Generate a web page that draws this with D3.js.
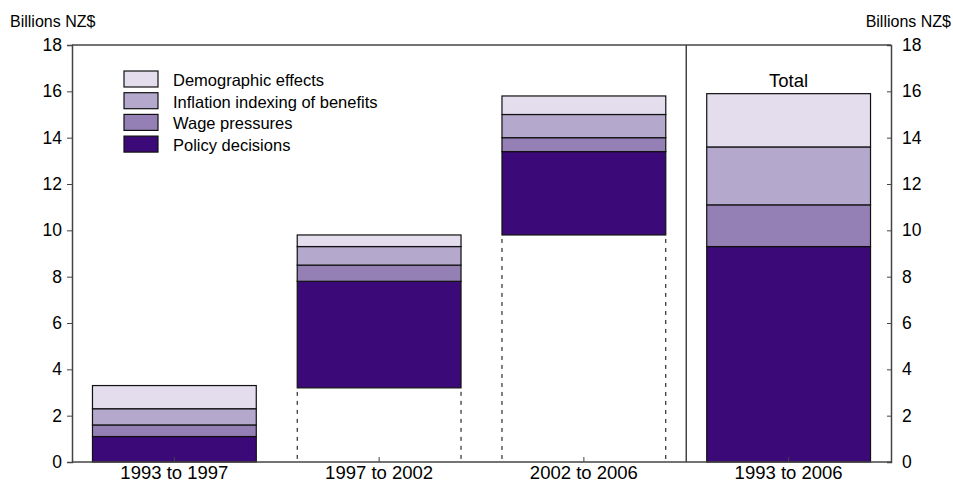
<!DOCTYPE html>
<html><head><meta charset="utf-8">
<script src="https://cdn.jsdelivr.net/npm/d3@7"></script>
<style>body{margin:0;background:#fff}svg{display:block}text{font-family:"Liberation Sans",Arial,sans-serif;fill:#000}</style>
</head><body><svg id="c" width="953" height="483"></svg>
<script>
const categories = ["1993 to 1997","1997 to 2002","2002 to 2006","1993 to 2006"];
const seriesNames = ["Policy decisions","Wage pressures","Inflation indexing of benefits","Demographic effects"];
const policy = [1.1, 4.6, 3.6, 9.3];
const wage = [0.5, 0.7, 0.6, 1.8];
const inflation = [0.7, 0.8, 1.0, 2.5];
const demographic = [1.0, 0.5, 0.8, 2.3];
const bases = [0, 3.2, 9.8, 0];
const yTicks = [0,2,4,6,8,10,12,14,16,18];
const colors = ["#3c0a78","#9580b5","#b4a8cd","#e3dded"];

const svg = d3.select("#c");
const L=72, R=891, T=45, B=462;
const x = d3.scaleBand().domain(categories).range([L,R]).paddingInner(0.2).paddingOuter(0.1);
const xb = d3.scaleBand().domain(categories).range([L,R]);
const y = d3.scaleLinear().domain([0,18]).range([B,T]);
const series=[policy,wage,inflation,demographic];

categories.forEach((c,i)=>{
  let acc=bases[i];
  series.forEach((s,k)=>{
    const y0=acc, y1=acc+s[i]; acc=y1;
    svg.append("rect").attr("x",x(c)).attr("width",x.bandwidth())
      .attr("y",y(y1)).attr("height",y(y0)-y(y1))
      .attr("fill",colors[k]).attr("stroke","#111").attr("stroke-width",1.2);
  });
  if(bases[i]>0){
    [x(c), x(c)+x.bandwidth()].forEach(xx=>{
      svg.append("line").attr("x1",xx).attr("x2",xx).attr("y1",y(bases[i])+4).attr("y2",B)
        .attr("stroke","#000").attr("stroke-width",1).attr("stroke-dasharray","4,5");
    });
  }
});

const fs="#444";
svg.append("line").attr("x1",L).attr("x2",R).attr("y1",T).attr("y2",T).attr("stroke",fs).attr("stroke-width",1.5);
svg.append("line").attr("x1",L).attr("x2",R).attr("y1",B).attr("y2",B).attr("stroke",fs).attr("stroke-width",1.5);
const sepX = xb(categories[3]);
svg.append("line").attr("x1",sepX).attr("x2",sepX).attr("y1",T).attr("y2",B).attr("stroke",fs).attr("stroke-width",1.5);

const yl = svg.append("g").attr("transform",`translate(${L},0)`).call(d3.axisLeft(y).tickValues(yTicks).tickSize(5).tickPadding(5));
const yr = svg.append("g").attr("transform",`translate(${R},0)`).call(d3.axisRight(y).tickValues(yTicks).tickSize(-4).tickPadding(11));
const xa = svg.append("g").attr("transform",`translate(0,${B})`).call(d3.axisBottom(xb).tickSize(-5).tickPadding(4));
[yl,yr].forEach(g=>g.selectAll("text").style("font-size","17.5px"));
xa.selectAll("text").style("font-size","18.5px");
[yl,yr,xa].forEach(g=>{
  g.select(".domain").attr("stroke",fs).attr("stroke-width",1.5);
  g.selectAll(".tick line").attr("stroke",fs);
  g.selectAll("text").style("font-family","'Liberation Sans',Arial,sans-serif").attr("fill","#000");
});
xa.selectAll(".domain").remove();

svg.append("text").attr("x",10).attr("y",27).style("font-size","16px").text("Billions NZ$");
svg.append("text").attr("x",951).attr("y",27).attr("text-anchor","end").style("font-size","16px").text("Billions NZ$");
svg.append("text").attr("x",xb(categories[3])+xb.bandwidth()/2).attr("y",87).attr("text-anchor","middle").style("font-size","18.5px").text("Total");

const legOrder=[3,2,1,0];
legOrder.forEach((k,j)=>{
  const cy=79+j*21.7;
  svg.append("rect").attr("x",124).attr("y",cy-8).attr("width",34).attr("height",16)
    .attr("fill",colors[k]).attr("stroke","#111").attr("stroke-width",1.2);
  svg.append("text").attr("x",173).attr("y",cy+7).style("font-size","16.5px").text(seriesNames[k]);
});
</script></body></html>
